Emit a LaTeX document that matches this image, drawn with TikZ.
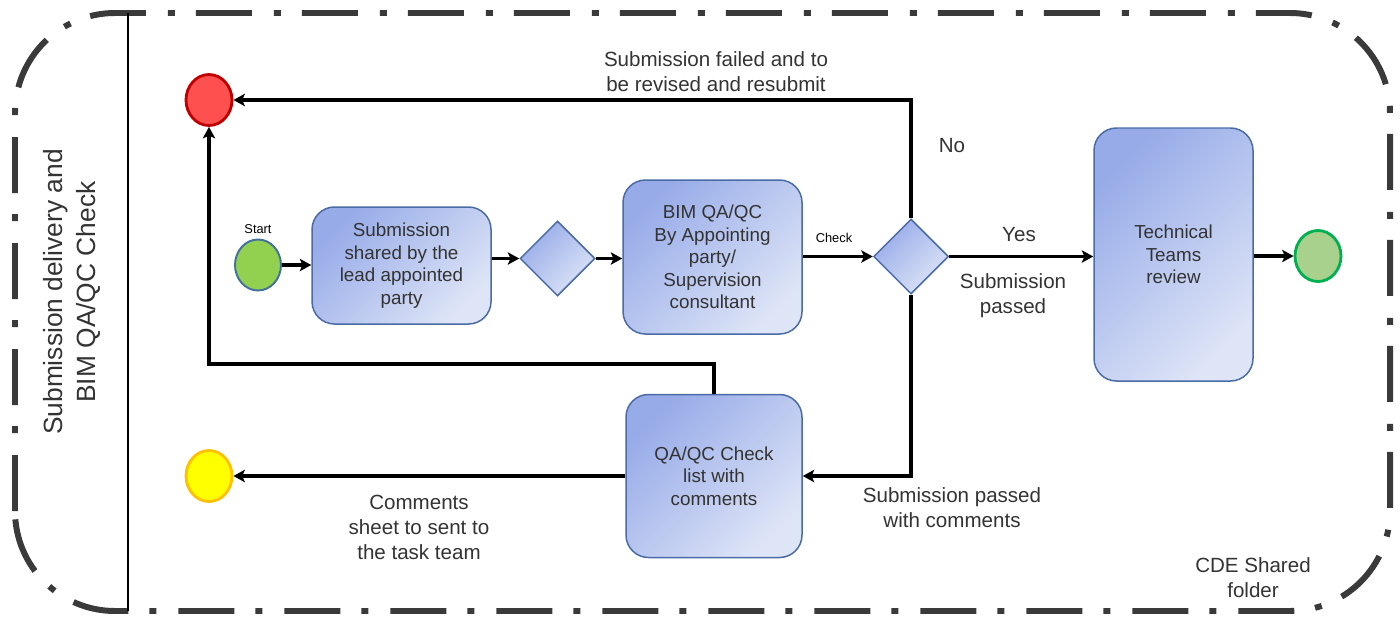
\documentclass[tikz,border=0pt]{standalone}
\usepackage{fontspec}
\setmainfont{Liberation Sans}
\usepackage{tikz}
\usetikzlibrary{calc, arrows.meta, positioning, shapes.geometric}
\usepackage{xcolor}
\definecolor{txtgrey}{HTML}{333333}
\definecolor{lanegrey}{HTML}{3A3A3A}
\definecolor{boxdark}{HTML}{97ABE8}
\definecolor{boxlight}{HTML}{DEE5F7}
\definecolor{boxedge}{HTML}{4A6BA6}
\definecolor{startfill}{HTML}{92D050}
\definecolor{startedge}{HTML}{41719C}
\definecolor{rejectfill}{HTML}{FF5050}
\definecolor{rejectedge}{HTML}{C00000}
\definecolor{commentfill}{HTML}{FFFF00}
\definecolor{commentedge}{HTML}{FFC000}
\definecolor{endfill}{HTML}{A9D18E}
\definecolor{endedge}{HTML}{00B050}
\newcommand{\lbl}{\fontsize{11.7}{14.2}\selectfont}
\newcommand{\boxfont}{\fontsize{10.7}{12.8}\selectfont}
\newcommand{\tinylbl}{\fontsize{7.3}{8.8}\selectfont}

\begin{document}
\begin{tikzpicture}[
    font=\lbl, text=txtgrey,
    task/.style={draw=boxedge, line width=0.85pt, rounded corners=0.45cm,
      top color=boxdark, bottom color=boxlight, shading angle=45,
      align=center, inner sep=0pt, font=\boxfont},
    gate/.style={diamond, draw=boxedge, line width=0.85pt,
      top color=boxdark, bottom color=boxlight, shading angle=45,
      minimum width=1.5cm, minimum height=1.5cm, inner sep=0pt},
    event/.style={ellipse, line width=1.6pt, minimum width=0.92cm,
      minimum height=1.02cm, inner sep=0pt},
    flow/.style={-{Stealth[length=6.5pt,width=7pt,inset=1.5pt]}, line width=2pt},
  ]
  \useasboundingbox (0,0) rectangle (28,12.34);

  % pool with lane
  \draw[lanegrey, line width=3.4pt, rounded corners=2cm,
    dash pattern=on 1.12cm off 0.44cm on 0.14cm off 0.42cm]
    (0.30,0.12) rectangle (27.80,12.08);
  \draw[line width=1.4pt] (2.56,0.12) -- (2.56,12.08);
  \node[rotate=90, align=center, font=\fontsize{15}{18.6}\selectfont] (lanetitle)
    at (1.44,6.50) {Submission delivery and\\BIM QA/QC Check};

  % events
  \node[event, draw=startedge, fill=startfill, line width=1.1pt] (start) at (5.16,7.04) {};
  \node[font=\tinylbl, text=black] (startlbl) at (5.16,7.76) {Start};
  \node[event, draw=rejectedge, fill=rejectfill] (reject) at (4.18,10.34) {};
  \node[event, draw=commentedge, fill=commentfill] (comment) at (4.18,2.82) {};
  \node[event, draw=endedge, fill=endfill] (finish) at (26.36,7.22) {};

  % tasks and gateways
  \node[task, minimum width=3.58cm, minimum height=2.34cm] (share) at (8.03,7.03)
    {Submission\\shared by the\\lead appointed\\party};
  \node[gate] (merge) at (11.15,7.17) {};
  \node[task, minimum width=3.58cm, minimum height=3.08cm] (bimqa) at (14.25,7.20)
    {BIM QA/QC\\By Appointing\\party/\\Supervision\\consultant};
  \node[gate] (decide) at (18.22,7.21) {};
  \node[task, minimum width=3.18cm, minimum height=5.06cm] (review) at (23.47,7.25)
    {Technical\\Teams\\review};
  \node[task, minimum width=3.52cm, minimum height=3.26cm] (checklist) at (14.28,2.82)
    {QA/QC Check\\list with\\comments};

  % sequence flows
  \draw[flow] (start.east) -- (start.east -| share.west);
  \draw[flow] (share.east |- merge) -- (merge.west);
  \draw[flow] (merge.east) -- (merge.east -| bimqa.west);
  \draw[flow] (bimqa.east |- decide) -- (decide.west);
  \draw[flow] (decide.east) -- (decide.east -| review.west);
  \draw[flow] (review.east |- finish) -- (finish.west);
  \draw[flow] (decide.north) |- (reject.east);
  \draw[flow] (decide.south) |- (checklist.east);
  \coordinate (loopback) at (4.18,5.06);
  \draw[flow] (checklist.north) |- (loopback) -- (reject.south);
  \draw[flow] (checklist.west) -- (comment.east);

  % flow labels
  \node[font=\tinylbl, text=black] (checklbl) at (16.68,7.58) {Check};
  \node[align=center] (faillbl) at (14.32,10.90) {Submission failed and to\\be revised and resubmit};
  \node (nolbl) at (19.04,9.42) {No};
  \node (yeslbl) at (20.38,7.64) {Yes};
  \node[align=center] (passlbl) at (20.26,6.42) {Submission\\passed};
  \node[align=center] (commentlbl) at (19.04,2.18) {Submission passed\\with comments};
  \node[align=center] (sheetlbl) at (8.38,1.80) {Comments\\sheet to sent to\\the task team};
  \node[align=center] (cdelbl) at (25.06,0.78) {CDE Shared\\folder};
\end{tikzpicture}
\end{document}
